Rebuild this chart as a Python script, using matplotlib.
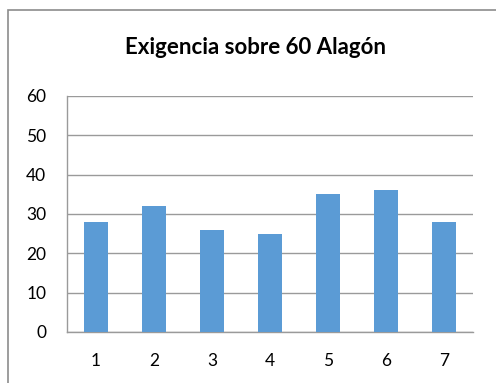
import matplotlib
matplotlib.use("Agg")
import matplotlib.pyplot as plt
from matplotlib.patches import Rectangle

categories = ["1", "2", "3", "4", "5", "6", "7"]
values = [28, 32, 26, 25, 35, 36, 28]
y_ticks = [0, 10, 20, 30, 40, 50, 60]
title = "Exigencia sobre 60 Alagón"

W, H = 496, 383
fig = plt.figure(figsize=(W / 100, H / 100), dpi=100)
fig.patch.set_facecolor("white")

# chart-area frame (extends past the right and bottom edges)
fig.add_artist(Rectangle((8 / W, -0.1), 1.2, 1 - 10 / H + 0.1,
                         transform=fig.transFigure, fill=False,
                         edgecolor="#8c8c8c", linewidth=1.2))

left, right, top, bottom = 67, 473, 96, 332
ax = fig.add_axes([left / W, 1 - bottom / H, (right - left) / W, (bottom - top) / H])

x = range(len(categories))
ax.bar(x, values, width=0.42, color="#5B9BD5", zorder=3)
ax.set_xlim(-0.5, len(categories) - 0.5)
ax.set_ylim(0, 60)
ax.set_yticks(y_ticks)
ax.set_xticks(list(x))
ax.set_xticklabels(categories)
ax.yaxis.grid(True, color="#9a9a9a", linewidth=1.0, zorder=0)

for s in ["top", "right"]:
    ax.spines[s].set_visible(False)
ax.spines["left"].set_color("#9a9a9a")
ax.spines["bottom"].set_color("#9a9a9a")
ax.spines["left"].set_linewidth(1.0)
ax.spines["bottom"].set_linewidth(1.0)

ax.tick_params(axis="y", length=0, pad=15, labelsize=12.5, labelcolor="black")
ax.tick_params(axis="x", length=0, pad=15, labelsize=12.5, labelcolor="black")
for lbl in ax.get_xticklabels() + ax.get_yticklabels():
    lbl.set_family("Lato")

fig.text(255 / W, 1 - 47 / H, title, ha="center", va="center",
         fontsize=16, fontweight="bold", family="Lato")

fig.savefig("out.png", dpi=100)
